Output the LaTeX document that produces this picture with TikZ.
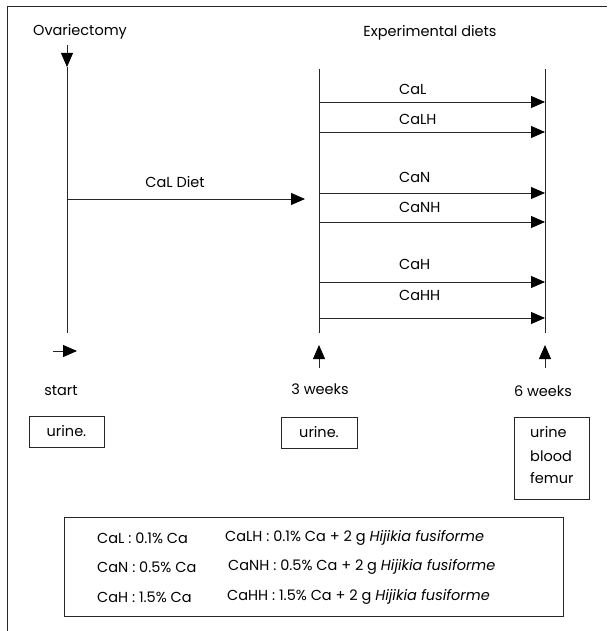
\documentclass[tikz,border=0pt]{standalone}
\usepackage{fontspec}
\setmainfont{Poppins}
\usetikzlibrary{arrows.meta}
\tikzset{
  ln/.style={line width=0.8pt, draw=black!85},
  arr/.style={ln, -{Triangle[length=14pt,width=12pt,color=black]}},
  lbl/.style={font=\fontsize{14.5}{17}\selectfont, inner sep=0pt},
  lblL/.style={lbl, anchor=west},
  boxn/.style={draw=black!85, line width=0.8pt, inner sep=0pt},
}
\begin{document}
\begin{tikzpicture}[x=1pt,y=-1pt]
\useasboundingbox (0,0) rectangle (607,631);
% outer frame (right and bottom edges lie outside the picture)
\draw[ln] (7,631) -- (7,6) -- (607,6);

% titles
\node[lbl] (ovx) at (80,32) {Ovariectomy};
\node[lbl] (exp) at (430,33) {Experimental diets};

% left timeline
\coordinate (dA) at (67,45);
\coordinate (l0) at (67,67);
\coordinate (l1) at (67,333);
\draw[arr] (dA) -- (l0);
\draw[ln] (l0) -- (l1);
\coordinate (cd0) at (67,199);
\coordinate (cd1) at (305,199);
\draw[arr] (cd0) -- (cd1);
\node[lbl] (cald) at (175,182) {CaL Diet};

% experimental period lines
\coordinate (m0) at (319,69);
\coordinate (m1) at (319,333);
\coordinate (r0) at (545,69);
\coordinate (r1) at (545,333);
\draw[ln] (m0) -- (m1);
\draw[ln] (r0) -- (r1);

\foreach \y/\ly/\t [count=\i] in {102/89/CaL, 132/119/CaLH, 193/177/CaN, 222/207/CaNH, 282/264/CaH, 318/295/CaHH}{
  \coordinate (s\i) at (319,\y);
  \coordinate (e\i) at (545,\y);
  \draw[arr] (s\i) -- (e\i);
  \node[lblL] (d\i) at (399,\ly) {\t};
}

% time markers
\coordinate (st0) at (53,351);
\coordinate (st1) at (77,351);
\draw[arr] (st0) -- (st1);
\coordinate (u30) at (319,368);
\coordinate (u31) at (319,345);
\draw[arr] (u30) -- (u31);
\coordinate (u60) at (545,368);
\coordinate (u61) at (545,345);
\draw[arr] (u60) -- (u61);

\node[lbl] (start) at (61,391) {start};
\node[lbl] (w3) at (320,389) {3 weeks};
\node[lbl] (w6) at (543,391) {6 weeks};

% sample boxes
\node[boxn, minimum width=75pt, minimum height=31pt] (b1) at (66.5,431.5) {};
\node[lbl] at (b1.center) {urine.};
\node[boxn, minimum width=76pt, minimum height=31pt] (b2) at (319,432.5) {};
\node[lbl] at (b2.center) {urine.};
\node[boxn, minimum width=75pt, minimum height=82pt] (b3) at (551.5,458) {};
\node[lblL] at (530,432) {urine};
\node[lblL] at (530,456) {blood};
\node[lblL] at (530,478) {femur};

% legend
\node[boxn, minimum width=499pt, minimum height=99pt] (leg) at (313.5,566.5) {};
\node[lblL] at (97,538) {CaL : 0.1\% Ca};
\node[lblL] at (97,567) {CaN : 0.5\% Ca};
\node[lblL] at (97,597) {CaH : 1.5\% Ca};
\node[lblL] at (225,538) {CaLH : 0.1\% Ca + 2 g \textit{Hijikia fusiforme}};
\node[lblL] at (228,567) {CaNH : 0.5\% Ca + 2 g \textit{Hijikia fusiforme}};
\node[lblL] at (227,597) {CaHH : 1.5\% Ca + 2 g \textit{Hijikia fusiforme}};
\end{tikzpicture}
\end{document}
